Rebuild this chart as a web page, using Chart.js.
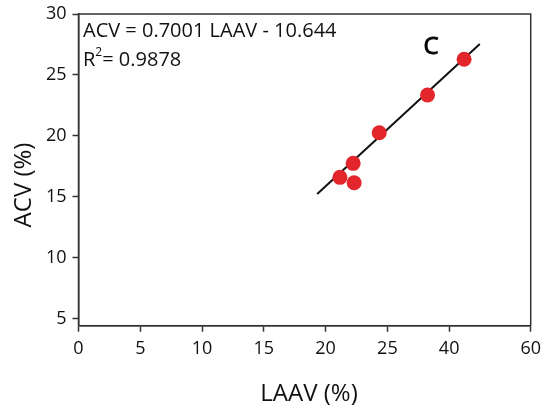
<!DOCTYPE html>
<html>
<head>
<meta charset="utf-8">
<script src="https://cdn.jsdelivr.net/npm/chart.js@4.4.1/dist/chart.umd.min.js"></script>
<style>
  html, body { margin: 0; padding: 0; background: #ffffff; }
  #wrap { width: 544px; height: 407px; }
</style>
</head>
<body>
<div id="wrap"><canvas id="c" width="544" height="407"></canvas></div>
<script>
// Tick labels of the (non-uniform) x axis and the axis positions they sit at
const xTickLabels = ['0', '5', '10', '15', '20', '25', '40', '60'];
const xTickPositions = [0, 5, 10, 15, 20, 25, 30, 36.6];
const yTickValues = [5, 10, 15, 20, 25, 30];

// Measured points (x in axis position units, y in ACV %)
const laav = [21.16, 22.31, 22.23, 24.34, 28.25, 31.21];
const acv  = [16.61, 16.17, 17.76, 20.27, 23.36, 26.29];

// Fitted line end points
const fitX = [19.32, 32.48];
const fitY = [15.25, 27.54];

const equationText = 'ACV = 0.7001 LAAV - 10.644';
const r2Value = '0.9878';
const panelLabel = 'C';
const xTitle = 'LAAV (%)';
const yTitle = 'ACV (%)';

const FONT = '"Open Sans", "Noto Sans", sans-serif';

const decor = {
  id: 'decor',
  afterDraw(chart) {
    const ctx = chart.ctx;
    const a = chart.chartArea;
    ctx.save();
    ctx.strokeStyle = '#333';
    ctx.lineWidth = 1.5;
    ctx.strokeRect(a.left, a.top, a.right - a.left, a.bottom - a.top);

    ctx.fillStyle = '#111';
    ctx.textBaseline = 'alphabetic';
    ctx.textAlign = 'left';
    ctx.font = '20px ' + FONT;
    ctx.fillText(equationText, 83, 36.5);
    ctx.fillText('R', 83, 65.5);
    const rw = ctx.measureText('R').width;
    ctx.font = '12px ' + FONT;
    ctx.fillText('2', 83 + rw, 56);
    const sw = ctx.measureText('2').width;
    ctx.font = '20px ' + FONT;
    ctx.fillText('= ' + r2Value, 83 + rw + sw, 65.5);

    ctx.font = '24px ' + FONT;
    ctx.textAlign = 'center';
    ctx.fillStyle = '#000';
    ctx.strokeStyle = '#000';
    ctx.lineWidth = 0.9;
    ctx.fillText(panelLabel, 431, 53.5);
    ctx.strokeText(panelLabel, 431, 53.5);

    ctx.font = '24px ' + FONT;
    ctx.fillStyle = '#111';
    ctx.textBaseline = 'middle';
    ctx.fillText(xTitle, 309, 394);
    ctx.translate(24, 185);
    ctx.rotate(-Math.PI / 2);
    ctx.fillText(yTitle, 0, 0);
    ctx.restore();
  }
};

new Chart(document.getElementById('c'), {
  type: 'scatter',
  data: {
    datasets: [
      {
        label: 'fit',
        data: fitX.map((x, i) => ({ x: x, y: fitY[i] })),
        showLine: true,
        borderColor: '#111',
        borderWidth: 2,
        pointRadius: 0,
        pointHoverRadius: 0,
        order: 2
      },
      {
        label: 'data',
        data: laav.map((x, i) => ({ x: x, y: acv[i] })),
        backgroundColor: '#e3262c',
        borderColor: '#e3262c',
        borderWidth: 0,
        pointRadius: 7.5,
        pointHoverRadius: 7.5,
        order: 1
      }
    ]
  },
  options: {
    responsive: false,
    animation: false,
    events: [],
    layout: { padding: { left: 0, right: 13.3, top: 14, bottom: 0 } },
    plugins: { legend: { display: false }, tooltip: { enabled: false }, title: { display: false } },
    scales: {
      x: {
        type: 'linear',
        min: 0,
        max: 36.6,
        afterBuildTicks(scale) { scale.ticks = xTickPositions.map(v => ({ value: v })); },
        afterFit(scale) { scale.height = 81.3; scale.paddingLeft = 0; scale.paddingRight = 0; },
        grid: { drawOnChartArea: false, drawTicks: true, tickLength: 6, tickColor: '#333', tickWidth: 1.5 },
        border: { display: true, color: '#333', width: 1.5 },
        ticks: {
          autoSkip: false,
          maxRotation: 0,
          padding: 6,
          color: '#111',
          font: { family: FONT, size: 18 },
          callback(value, index) { return xTickLabels[index]; }
        },
        title: { display: false }
      },
      y: {
        type: 'linear',
        min: 4.45,
        max: 30,
        afterBuildTicks(scale) { scale.ticks = yTickValues.map(v => ({ value: v })); },
        afterFit(scale) { scale.width = 78.5; scale.paddingTop = 0; scale.paddingBottom = 0; },
        grid: { drawOnChartArea: false, drawTicks: true, tickLength: 6, tickColor: '#333', tickWidth: 1.5 },
        border: { display: true, color: '#333', width: 1.5 },
        ticks: {
          autoSkip: false,
          padding: 6,
          color: '#111',
          font: { family: FONT, size: 18 },
          callback(value) { return String(value); }
        },
        title: { display: false }
      }
    }
  },
  plugins: [decor]
});
</script>
</body>
</html>
